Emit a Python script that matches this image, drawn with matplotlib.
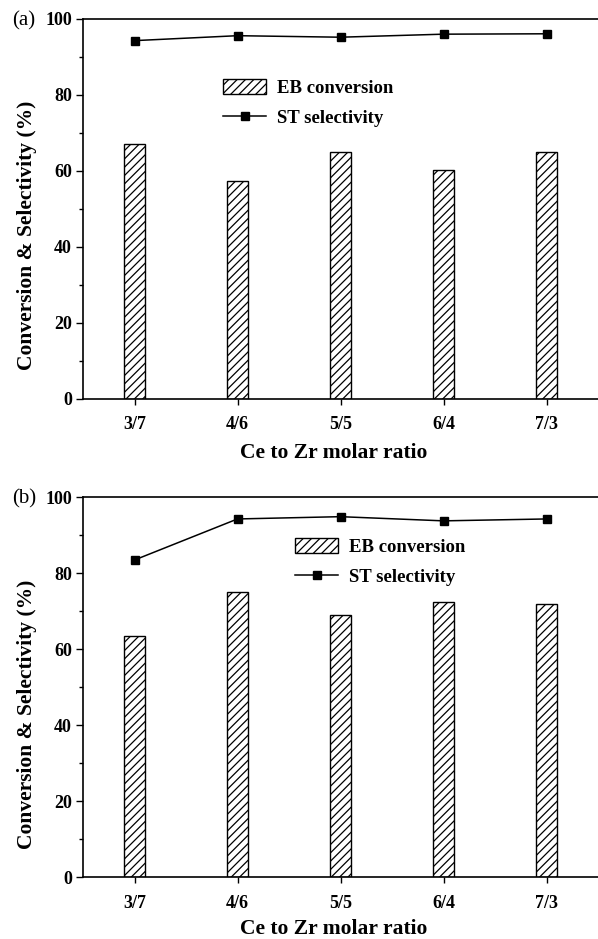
import numpy as np
import matplotlib
matplotlib.use("Agg")
import matplotlib.pyplot as plt
from matplotlib.ticker import MultipleLocator

plt.rcParams['font.family'] = ['Liberation Serif', 'DejaVu Serif']
plt.rcParams['hatch.linewidth'] = 0.9

ratios = ['3/7', '4/6', '5/5', '6/4', '7/3']
eb_a = [67.1, 57.3, 65.1, 60.3, 65.1]
st_a = [94.3, 95.6, 95.2, 96.0, 96.1]
eb_b = [63.6, 75.0, 69.0, 72.5, 71.8]
st_b = [83.5, 94.3, 94.9, 93.8, 94.3]

fig = plt.figure(figsize=(5.98, 9.39), dpi=100)
ax_a = fig.add_axes([0.1388, 0.5751, 0.8612, 0.4047])
ax_b = fig.add_axes([0.1388, 0.0657, 0.8612, 0.4047])

panels = [(ax_a, eb_a, st_a, '(a)', (0.272, 0.843), 7),
          (ax_b, eb_b, st_b, '(b)', (0.412, 0.892), 5)]

x = np.arange(len(ratios))
for ax, eb, st, tag, leg_pos, xpad in panels:
    bars = ax.bar(x, eb, width=0.2, color='white', edgecolor='black',
                  hatch='////', linewidth=1.0, label='EB conversion')
    line, = ax.plot(x, st, color='black', marker='s', markersize=6,
                    linewidth=1.1, label='ST selectivity')
    ax.set_xlim(-0.5, 4.5)
    ax.set_ylim(0, 100)
    ax.set_xticks(x)
    ax.set_xticklabels(ratios)
    ax.yaxis.set_major_locator(MultipleLocator(20))
    ax.yaxis.set_minor_locator(MultipleLocator(10))
    ax.tick_params(axis='x', which='major', direction='out', length=4.5,
                   width=1, labelsize=13, pad=8)
    ax.tick_params(axis='y', which='major', direction='out', length=5,
                   width=1, labelsize=13, pad=3)
    ax.tick_params(axis='y', which='minor', direction='out', length=3, width=1)
    for lab in ax.get_xticklabels() + ax.get_yticklabels():
        lab.set_fontweight('bold')
    ax.spines['right'].set_visible(False)
    for s in ['left', 'bottom', 'top']:
        ax.spines[s].set_linewidth(1.2)
    ax.set_xlabel('Ce to Zr molar ratio', fontsize=15.5, fontweight='bold',
                  labelpad=xpad)
    ax.xaxis.label.set_x(0.487)
    ax.set_ylabel('Conversion & Selectivity (%)', fontsize=15.5,
                  fontweight='bold', labelpad=6)
    ax.yaxis.label.set_y(0.43)
    bb = ax.get_position()
    fig.text(0.02, bb.y1 - 0.002, tag, fontsize=15, va='center', ha='left')
    ax.legend([bars, line], ['EB conversion', 'ST selectivity'],
              loc='upper left', bbox_to_anchor=leg_pos, frameon=False,
              prop={'weight': 'bold', 'size': 13.5}, handlelength=2.3,
              handleheight=0.85, handletextpad=0.55, labelspacing=0.65,
              borderaxespad=0, borderpad=0)

fig.savefig('out.png', dpi=100)
